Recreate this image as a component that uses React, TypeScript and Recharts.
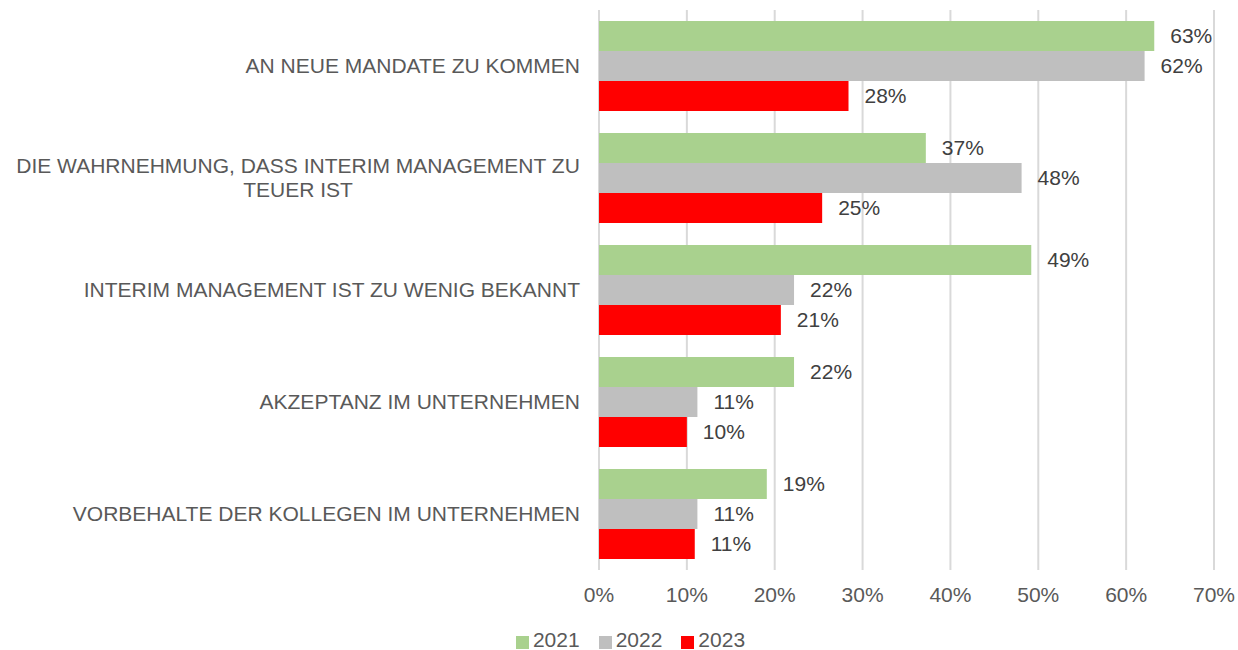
import React from 'react';
import { BarChart, Bar, XAxis, YAxis, CartesianGrid, Legend, LabelList } from 'recharts';

const categories = [
  'AN NEUE MANDATE ZU KOMMEN',
  'DIE WAHRNEHMUNG, DASS INTERIM MANAGEMENT ZU TEUER IST',
  'INTERIM MANAGEMENT IST ZU WENIG BEKANNT',
  'AKZEPTANZ IM UNTERNEHMEN',
  'VORBEHALTE DER KOLLEGEN IM UNTERNEHMEN',
];
const values2021 = [63.2, 37.2, 49.2, 22.2, 19.1];
const values2022 = [62.1, 48.1, 22.2, 11.2, 11.2];
const values2023 = [28.4, 25.4, 20.7, 10.0, 10.9];
const seriesNames = ['2021', '2022', '2023'];
const seriesColors = ['#A9D18E', '#BFBFBF', '#FF0000'];
const xTicks = [0, 10, 20, 30, 40, 50, 60, 70];

const FONT = "'Liberation Sans', Arial, sans-serif";
const FONT_SIZE = 21;

const data = categories.map((c, i) => ({
  name: c,
  v2021: values2021[i],
  v2022: values2022[i],
  v2023: values2023[i],
}));

let ctx: CanvasRenderingContext2D | null = null;
function measure(t: string): number {
  if (!ctx) {
    const c = document.createElement('canvas');
    ctx = c.getContext('2d');
  }
  if (!ctx) return t.length * 11.5;
  ctx.font = `${FONT_SIZE}px ${FONT}`;
  return ctx.measureText(t).width;
}

function wrap(text: string, maxW: number): string[] {
  const words = text.split(' ');
  const lines: string[] = [];
  let cur = '';
  for (const w of words) {
    const test = cur ? cur + ' ' + w : w;
    if (measure(test) > maxW && cur) {
      lines.push(cur);
      cur = w;
    } else {
      cur = test;
    }
  }
  if (cur) lines.push(cur);
  return lines;
}

const CategoryTick = (props: any) => {
  const { x, y, payload } = props;
  const right = x - 11;
  const lines = wrap(String(payload.value), 578);
  const lineH = 24;
  if (lines.length === 1) {
    return (
      <text x={right} y={y} dy="0.355em" textAnchor="end" fill="#595959" fontSize={FONT_SIZE} fontFamily={FONT}>
        {lines[0]}
      </text>
    );
  }
  const maxW = Math.max(...lines.map(measure));
  const cx = right - maxW / 2;
  const startY = y - ((lines.length - 1) * lineH) / 2;
  return (
    <text textAnchor="middle" fill="#595959" fontSize={FONT_SIZE} fontFamily={FONT}>
      {lines.map((l, i) => (
        <tspan key={i} x={cx} y={startY + i * lineH} dy="0.355em">
          {l}
        </tspan>
      ))}
    </text>
  );
};

const LegendContent = () => (
  <div
    style={{
      display: 'flex',
      justifyContent: 'center',
      alignItems: 'center',
      height: 20,
      paddingLeft: 47,
      fontFamily: FONT,
      fontSize: FONT_SIZE,
      color: '#595959',
    }}
  >
    {seriesNames.map((n, i) => (
      <div key={n} style={{ display: 'flex', alignItems: 'center', marginRight: i < seriesNames.length - 1 ? 19 : 0 }}>
        <svg width={13} height={13} style={{ marginRight: 4, marginTop: 5 }}>
          <rect x={0} y={0} width={13} height={13} fill={seriesColors[i]} />
        </svg>
        <span style={{ lineHeight: '20px' }}>{n}</span>
      </div>
    ))}
  </div>
);

const fmt = (v: any) => `${Math.round(Number(v))}%`;

export default function App() {
  return (
    <div style={{ position: 'absolute', top: 0, left: 0, width: 1238, height: 650, background: '#fff' }}>
      <BarChart
        width={1238}
        height={650}
        data={data}
        layout="vertical"
        margin={{ top: 10, right: 24, bottom: 0, left: 0 }}
        barCategoryGap={11}
        barGap={0}
      >
        <CartesianGrid horizontal={false} vertical={true} stroke="#D9D9D9" strokeWidth={2} />
        <XAxis
          type="number"
          domain={[0, 70]}
          ticks={xTicks}
          tickFormatter={(v: number) => `${v}%`}
          axisLine={false}
          tickLine={false}
          tickSize={0}
          tickMargin={17}
          height={60}
          interval={0}
          tick={{ fill: '#595959', fontSize: FONT_SIZE, fontFamily: FONT }}
        />
        <YAxis
          type="category"
          dataKey="name"
          width={599}
          axisLine={false}
          tickLine={false}
          interval={0}
          tick={<CategoryTick />}
        />
        <Legend verticalAlign="bottom" content={<LegendContent />} height={20} />
        {['v2021', 'v2022', 'v2023'].map((k, i) => (
          <Bar key={k} dataKey={k} name={seriesNames[i]} fill={seriesColors[i]} isAnimationActive={false}>
            <LabelList
              dataKey={k}
              position="right"
              offset={16}
              formatter={fmt}
              fill="#404040"
              fontSize={FONT_SIZE}
              fontFamily={FONT}
            />
          </Bar>
        ))}
      </BarChart>
    </div>
  );
}
